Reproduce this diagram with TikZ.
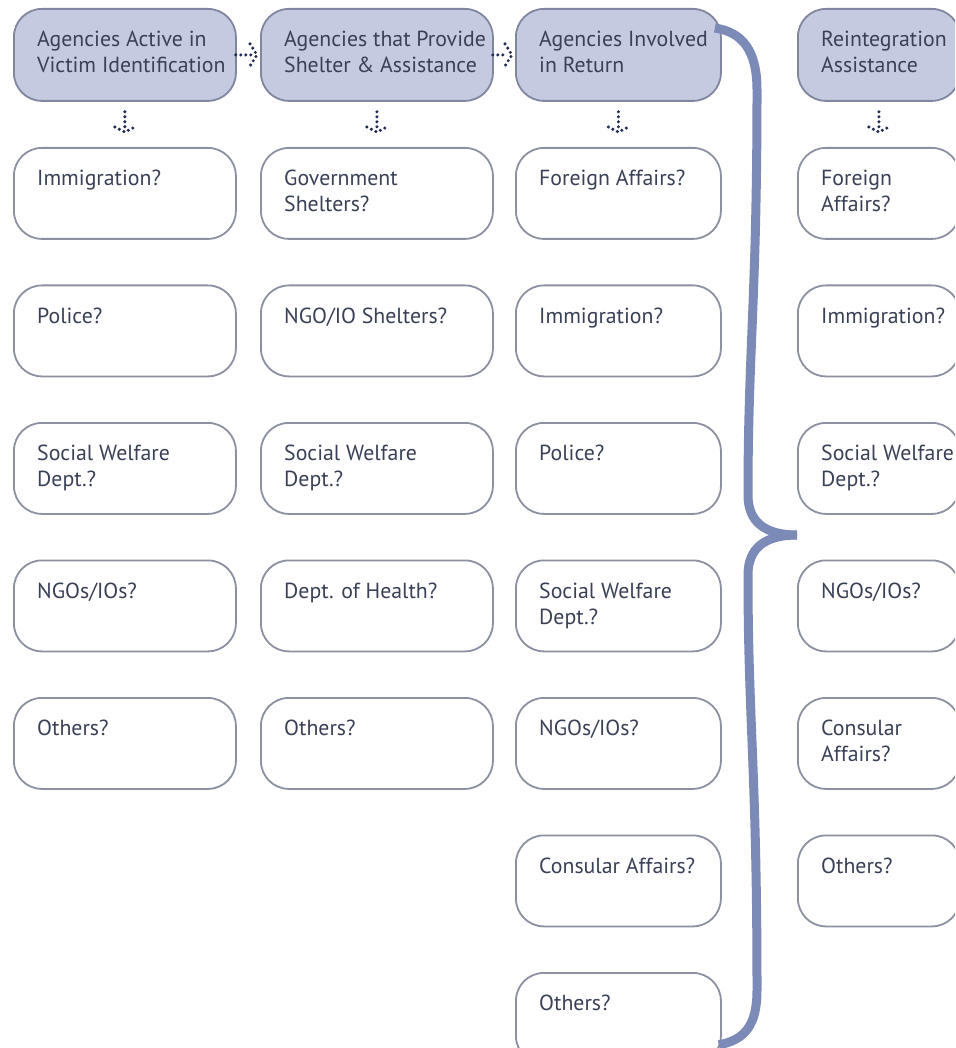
\documentclass[tikz,border=0pt]{standalone}
\usepackage{fontspec}
\setmainfont{PT Sans}
\definecolor{hfill}{RGB}{196,202,224}
\definecolor{hborder}{RGB}{128,134,160}
\definecolor{bborder}{RGB}{140,144,160}
\definecolor{txtcol}{RGB}{58,64,86}
\definecolor{bracecol}{RGB}{124,138,184}
\definecolor{dotcol}{RGB}{34,44,84}
\tikzset{
  cell/.style={draw=bborder, line width=1.8pt, rounded corners=28pt, fill=white,
    minimum height=91pt, inner sep=0pt, anchor=north west},
  head/.style={cell, fill=hfill, draw=hborder, minimum height=92pt},
  txt/.style={anchor=north west, align=left, inner sep=0pt, text=txtcol,
    font=\fontsize{21.8}{26}\selectfont},
  dotline/.style={dotcol, line width=3.4pt, line cap=round, dash pattern=on 0pt off 5pt},
  bracestyle/.style={bracecol, line width=9pt, line cap=butt}
}
\newcommand{\cellnode}[5]{% style, name, x, y, width
  \node[#1, minimum width=#5pt] (#2) at (#3,#4) {};}
\newcommand{\celltext}[2]{\node[txt] at ([shift={(24,23)}]#1.north west) {#2};}
\newcommand{\vdotarrow}[2]{%
  \draw[dotline] ([shift={(0,10)}]#1.south) -- ([shift={(0,-19)}]#2.north);
  \draw[dotline] ([shift={(-10,-20)}]#2.north) -- ([shift={(0,-15)}]#2.north) -- ([shift={(10,-20)}]#2.north);}
\newcommand{\hdotarrow}[2]{%
  \draw[dotline] ([shift={(-1,0)}]#1.east) -- ([shift={(-8,0)}]#2.west);
  \draw[dotline] ([shift={(-10,-11)}]#2.west) -- ([shift={(-3,0)}]#2.west) -- ([shift={(-10,11)}]#2.west);}
\begin{document}
\begin{tikzpicture}[x=1pt,y=-1pt]
\useasboundingbox (0,0) rectangle (955,1048);
\clip (0,0) rectangle (955,1048);
% headers
\cellnode{head}{h1}{13}{8}{222}
\cellnode{head}{h2}{260}{8}{232}
\cellnode{head}{h3}{515}{8}{205}
\cellnode{head}{h4}{797}{8}{162}
\celltext{h1}{Agencies Active in\\Victim Identification}
\celltext{h2}{Agencies that Provide\\Shelter \& Assistance}
\celltext{h3}{Agencies Involved\\in Return}
\celltext{h4}{Reintegration\\Assistance}
% column 1
\cellnode{cell}{b11}{13}{147}{222}
\cellnode{cell}{b12}{13}{284.5}{222}
\cellnode{cell}{b13}{13}{422}{222}
\cellnode{cell}{b14}{13}{559.5}{222}
\cellnode{cell}{b15}{13}{697}{222}
\celltext{b11}{Immigration?}
\celltext{b12}{Police?}
\celltext{b13}{Social Welfare\\Dept.?}
\celltext{b14}{NGOs/IOs?}
\celltext{b15}{Others?}
% column 2
\cellnode{cell}{b21}{260}{147}{232}
\cellnode{cell}{b22}{260}{284.5}{232}
\cellnode{cell}{b23}{260}{422}{232}
\cellnode{cell}{b24}{260}{559.5}{232}
\cellnode{cell}{b25}{260}{697}{232}
\celltext{b21}{Government\\Shelters?}
\celltext{b22}{NGO/IO Shelters?}
\celltext{b23}{Social Welfare\\Dept.?}
\celltext{b24}{Dept. of Health?}
\celltext{b25}{Others?}
% column 3
\cellnode{cell}{b31}{515}{147}{205}
\cellnode{cell}{b32}{515}{284.5}{205}
\cellnode{cell}{b33}{515}{422}{205}
\cellnode{cell}{b34}{515}{559.5}{205}
\cellnode{cell}{b35}{515}{697}{205}
\cellnode{cell}{b36}{515}{834.5}{205}
\cellnode{cell}{b37}{515}{972}{205}
\celltext{b31}{Foreign Affairs?}
\celltext{b32}{Immigration?}
\celltext{b33}{Police?}
\celltext{b34}{Social Welfare\\Dept.?}
\celltext{b35}{NGOs/IOs?}
\celltext{b36}{Consular Affairs?}
\celltext{b37}{Others?}
% column 4
\cellnode{cell}{b41}{797}{147}{162}
\cellnode{cell}{b42}{797}{284.5}{162}
\cellnode{cell}{b43}{797}{422}{162}
\cellnode{cell}{b44}{797}{559.5}{162}
\cellnode{cell}{b45}{797}{697}{162}
\cellnode{cell}{b46}{797}{834.5}{162}
\celltext{b41}{Foreign\\Affairs?}
\celltext{b42}{Immigration?}
\celltext{b43}{Social Welfare\\Dept.?}
\celltext{b44}{NGOs/IOs?}
\celltext{b45}{Consular\\Affairs?}
\celltext{b46}{Others?}
% dotted arrows
\hdotarrow{h1}{h2}
\hdotarrow{h2}{h3}
\vdotarrow{h1}{b11}
\vdotarrow{h2}{b21}
\vdotarrow{h3}{b31}
\vdotarrow{h4}{b41}
% brace
\coordinate (bt) at ([shift={(-7,20)}]h3.north east);
\coordinate (bb) at ([shift={(-3,-20)}]b37.south east);
\coordinate (tip) at ([shift={(0,-24.5)}]b44.north west);
\draw[bracestyle] (bt) .. controls (742,32) and (757,50) .. (757,90)
  .. controls (757,300) and (748,350) .. (748,495)
  .. controls (748,522) and (765,535) .. (tip);
\draw[bracestyle] (tip) .. controls (765,535) and (748,548) .. (748,575)
  .. controls (748,720) and (757,770) .. (757,990)
  .. controls (757,1025) and (745,1040) .. (bb);
\end{tikzpicture}
\end{document}
